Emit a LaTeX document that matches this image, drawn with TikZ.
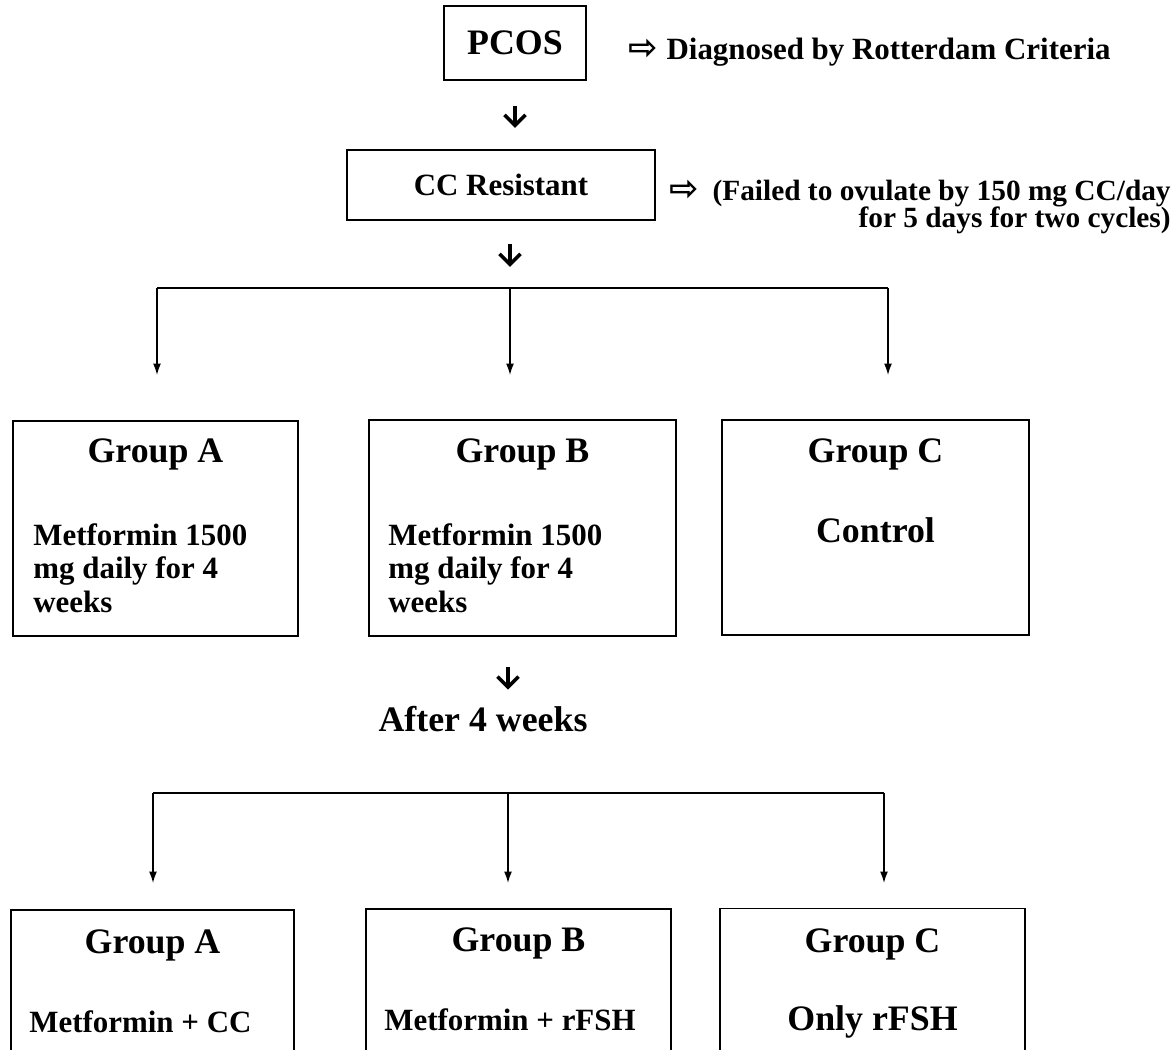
\documentclass[tikz,border=0pt]{standalone}
\usepackage{fontspec}
\setmainfont{Liberation Serif}
\newfontfamily\arrowfont{DejaVu Sans}
\usetikzlibrary{arrows.meta,calc,positioning}
\tikzset{
  box/.style={draw,line width=1.1pt,inner sep=0pt},
  head/.style={font=\fontsize{20.4}{24}\selectfont\bfseries,inner sep=0pt},
  body/.style={font=\fontsize{17.6}{19.2}\selectfont\bfseries,inner sep=0pt,align=left},
  note/.style={font=\fontsize{17.6}{20}\selectfont\bfseries,inner sep=0pt},
  bigarrow/.style={line width=2pt,-{Straight Barb[length=6pt,width=12pt,line width=2pt]}},
  branch/.style={line width=0.8pt},
  tip/.style={line width=0.8pt,-{Latex[length=6.5pt,width=4.5pt]}}
}
\begin{document}
\begin{tikzpicture}[x=0.02cm,y=-0.02cm]
  \clip (0,0) rectangle (1172,1050);
  \fill[white] (0,0) rectangle (1172,1050);
  % top part
  \node[box,head,minimum width=2.84cm,minimum height=1.48cm] (pcos) at (515,43) {PCOS};
  \node[note,anchor=base west] (rott) at (628,60) {{\arrowfont\fontsize{20}{20}\selectfont ⇨}\hspace{5pt}Diagnosed by Rotterdam Criteria};
  \node[box,note,minimum width=6.16cm,minimum height=1.4cm] (cc) at (501,185) {CC Resistant};
  \node[note,anchor=north east,align=right,font=\fontsize{16.7}{15.5}\selectfont\bfseries] (fail) at (1171,180)
    {{\arrowfont\fontsize{20}{15}\selectfont ⇨}\hspace{8pt}(Failed to ovulate by 150 mg CC/day\\for 5 days for two cycles)};
  \draw[bigarrow,shorten <=14pt,shorten >=12pt] (pcos.south) -- (pcos.south |- cc.north);
  % first split
  \coordinate (s0) at (510,288);
  \coordinate (sl) at (157,288);
  \coordinate (sr) at (888,288);
  \coordinate (al) at (157,375);
  \coordinate (am) at (510,375);
  \coordinate (ar) at (888,375);
  \draw[bigarrow,shorten <=13pt,shorten >=12pt] (cc.south -| s0) -- (s0);
  \draw[branch] (sl) -- (sr);
  \draw[tip] (sl) -- (al);
  \draw[tip] (s0) -- (am);
  \draw[tip] (sr) -- (ar);
  % groups before
  \node[box,minimum width=5.7cm,minimum height=4.3cm] (ga) at (155.5,528.5) {};
  \node[box,minimum width=6.14cm,minimum height=4.32cm] (gb) at (522.5,528) {};
  \node[box,minimum width=6.14cm,minimum height=4.3cm] (gc) at (875.5,527.5) {};
  \node[head,anchor=base] at ($(ga.north)+(0,42)$) {Group A};
  \node[body,anchor=north west] at ($(ga.north west)+(21,103)$) {Metformin 1500\\mg daily for 4\\weeks};
  \node[head,anchor=base] at ($(gb.north)+(0,43)$) {Group B};
  \node[body,anchor=north west] at ($(gb.north west)+(20,104)$) {Metformin 1500\\mg daily for 4\\weeks};
  \node[head,anchor=base] at ($(gc.north)+(0,43)$) {Group C};
  \node[head,anchor=base] at ($(gc.north)+(0,123)$) {Control};
  % after 4 weeks
  \node[head,anchor=base] (after) at (483,731) {After 4 weeks};
  \coordinate (s1) at (508,793);
  \coordinate (tl) at (153,793);
  \coordinate (tr) at (884,793);
  \coordinate (bl) at (153,883);
  \coordinate (bm) at (508,883);
  \coordinate (br) at (884,883);
  \draw[bigarrow,shorten <=17pt,shorten >=9pt] (gb.south -| s1) -- (s1 |- after.north);
  \draw[branch] (tl) -- (tr);
  \draw[tip] (tl) -- (bl);
  \draw[tip] (s1) -- (bm);
  \draw[tip] (tr) -- (br);
  % groups after
  \node[box,minimum width=5.66cm,minimum height=3.4cm] (fa) at (152.5,995) {};
  \node[box,minimum width=6.1cm,minimum height=3.4cm] (fb) at (518.5,994) {};
  \node[box,minimum width=6.1cm,minimum height=3.4cm] (fc) at (872.5,993.5) {};
  \node[head,anchor=base] at ($(fa.north)+(0,44)$) {Group A};
  \node[body,anchor=base west] at ($(fa.north west)+(19,123)$) {Metformin + CC};
  \node[head,anchor=base] at ($(fb.north)+(0,43)$) {Group B};
  \node[body,anchor=base west] at ($(fb.north west)+(19,122)$) {Metformin + rFSH};
  \node[head,anchor=base] at ($(fc.north)+(0,45)$) {Group C};
  \node[head,anchor=base] at ($(fc.north)+(0,123)$) {Only rFSH};
\end{tikzpicture}
\end{document}
